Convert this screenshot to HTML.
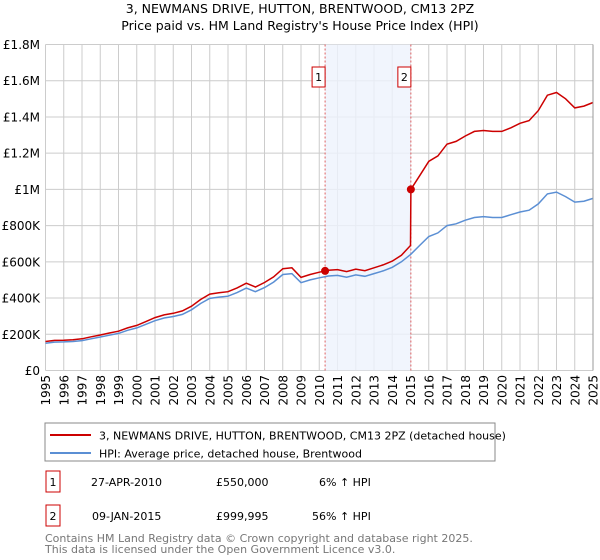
<!DOCTYPE html>
<html><head><meta charset="utf-8"><style>
body{margin:0;background:#fff;font-family:"Liberation Sans","DejaVu Sans",sans-serif;}
#wrap{position:relative;width:600px;height:560px;overflow:hidden;}
svg text{font-family:"DejaVu Sans","Liberation Sans",sans-serif;}
</style></head><body>
<div id="wrap">
<svg id="chart" width="600" height="560">
<text x="300" y="13" text-anchor="middle" font-size="12.5">3, NEWMANS DRIVE, HUTTON, BRENTWOOD, CM13 2PZ</text>
<text x="300" y="30" text-anchor="middle" font-size="12.5">Price paid vs. HM Land Registry's House Price Index (HPI)</text>
<g id="grid"></g><g id="shade"></g><g id="lines"></g><g id="marks"></g><g id="axes"></g>
<rect x="45" y="423" width="450" height="38" fill="none" stroke="#888"/>
<line x1="50" y1="435" x2="91" y2="435" stroke="#cc0000" stroke-width="2"/>
<text x="99" y="439.5" font-size="11">3, NEWMANS DRIVE, HUTTON, BRENTWOOD, CM13 2PZ (detached house)</text>
<line x1="50" y1="453" x2="91" y2="453" stroke="#5b8fd4" stroke-width="2"/>
<text x="99" y="457.5" font-size="11">HPI: Average price, detached house, Brentwood</text>
<rect x="46" y="471" width="14" height="21" fill="#fff" stroke="#cc0000"/>
<text x="53" y="486" text-anchor="middle" font-size="11">1</text>
<text x="91" y="486" font-size="11">27-APR-2010</text>
<text x="216" y="486" font-size="11">£550,000</text>
<text x="319" y="486" font-size="11">6% ↑ HPI</text>
<rect x="46" y="505" width="14" height="21" fill="#fff" stroke="#cc0000"/>
<text x="53" y="520" text-anchor="middle" font-size="11">2</text>
<text x="92" y="520" font-size="11">09-JAN-2015</text>
<text x="216" y="520" font-size="11">£999,995</text>
<text x="312" y="520" font-size="11">56% ↑ HPI</text>
<text x="45" y="542" font-size="11" fill="#777">Contains HM Land Registry data © Crown copyright and database right 2025.</text>
<text x="45" y="553" font-size="11" fill="#777">This data is licensed under the Open Government Licence v3.0.</text>
</svg>
</div>
<script>
const years=[1995,1995.5,1996,1996.5,1997,1997.5,1998,1998.5,1999,1999.5,2000,2000.5,2001,2001.5,2002,2002.5,2003,2003.5,2004,2004.5,2005,2005.5,2006,2006.5,2007,2007.5,2008,2008.5,2009,2009.5,2010,2010.5,2011,2011.5,2012,2012.5,2013,2013.5,2014,2014.5,2015,2015.02,2015.5,2016,2016.5,2017,2017.5,2018,2018.5,2019,2019.5,2020,2020.5,2021,2021.5,2022,2022.5,2023,2023.5,2024,2024.5,2025];
const hpiValues=[151,157,158,160,165,175,185,195,205,222,235,255,275,290,298,310,335,370,398,405,410,430,455,435,458,488,530,535,485,500,512,522,525,515,528,520,535,550,570,600,640,642,690,740,760,800,810,830,845,850,845,845,860,875,885,920,975,985,960,930,935,950];
const priceValues=[160,166,167,170,175,186,196,207,217,235,249,270,292,307,316,329,355,392,422,429,435,456,482,461,486,517,562,567,514,530,543,553,557,546,560,551,567,583,604,636,690,1000,1075,1155,1185,1250,1265,1295,1320,1325,1320,1320,1340,1365,1380,1435,1520,1535,1500,1450,1460,1480];
const yTicks=[0,200,400,600,800,1000,1200,1400,1600,1800];
const yTickLabels=["£0","£200K","£400K","£600K","£800K","£1M","£1.2M","£1.4M","£1.6M","£1.8M"];
const xTicks=[1995,1996,1997,1998,1999,2000,2001,2002,2003,2004,2005,2006,2007,2008,2009,2010,2011,2012,2013,2014,2015,2016,2017,2018,2019,2020,2021,2022,2023,2024,2025];
const saleYears=[2010.32,2015.02];
const saleValues=[550,1000];
const saleLabels=["1","2"];

const NS="http://www.w3.org/2000/svg";
const X0=45.5,X1=593,Y0=370.5,Y1=44.5;
const xs=y=>X0+(y-1995)/30*(X1-X0);
const ys=v=>Y0-v/1800*(Y0-Y1);
function mk(tag,attrs,parent){const e=document.createElementNS(NS,tag);for(const k in attrs)e.setAttribute(k,attrs[k]);document.getElementById(parent).appendChild(e);return e;}

// shade
let sh=mk('rect',{x:xs(saleYears[0]),y:Y1,width:xs(saleYears[1])-xs(saleYears[0]),height:Y0-Y1,fill:'#eef3fd',opacity:0.8},'shade');


// grid
yTicks.forEach((t,i)=>{
 const l=mk('line',{x1:X0,x2:X1,y1:ys(t),y2:ys(t),stroke:'#cccccc','stroke-width':1},'grid');
 
 
 const tx=mk('text',{x:40,y:ys(t)+4.5,'text-anchor':'end','font-size':12},'axes');
 tx.textContent=yTickLabels[i];
 
 
});
xTicks.forEach(t=>{
 const l=mk('line',{x1:xs(t),x2:xs(t),y1:Y1,y2:Y0,stroke:'#cccccc','stroke-width':1},'grid');
 
 
 const tx=mk('text',{x:0,y:0,'text-anchor':'end','font-size':12,transform:`translate(${xs(t)+4.5},375) rotate(-90)`},'axes');
 tx.textContent=t;
 
 
});
// sale lines
saleYears.forEach(s=>{
 const l=mk('line',{x1:xs(s),x2:xs(s),y1:Y1,y2:Y0,stroke:'#e06060','stroke-width':1,'stroke-dasharray':'2,2'},'shade');
 
 
});
// lines
function path(vals){return vals.map((v,i)=>(i?'L':'M')+xs(years[i]).toFixed(1)+','+ys(v).toFixed(1)).join('');}
const hp=mk('path',{d:path(hpiValues),fill:'none',stroke:'#5b8fd4','stroke-width':1.5},'lines');


const pp=mk('path',{d:path(priceValues),fill:'none',stroke:'#cc0000','stroke-width':1.5},'lines');


saleYears.forEach((s,i)=>{
 const c=mk('circle',{cx:xs(s),cy:ys(saleValues[i]),r:4,fill:'#cc0000'},'marks');
 
 
 const b=mk('rect',{x:xs(s)-13,y:67,width:13,height:20,fill:'#fff',stroke:'#cc0000'},'marks');
 
 
 const t=mk('text',{x:xs(s)-6.5,y:81,'text-anchor':'middle','font-size':11},'marks');
 t.textContent=saleLabels[i];
 
 
});
const rb=mk('line',{x1:X1,x2:X1,y1:Y1,y2:Y0,stroke:'#999','stroke-width':1},'axes');


</script>
</body></html>
